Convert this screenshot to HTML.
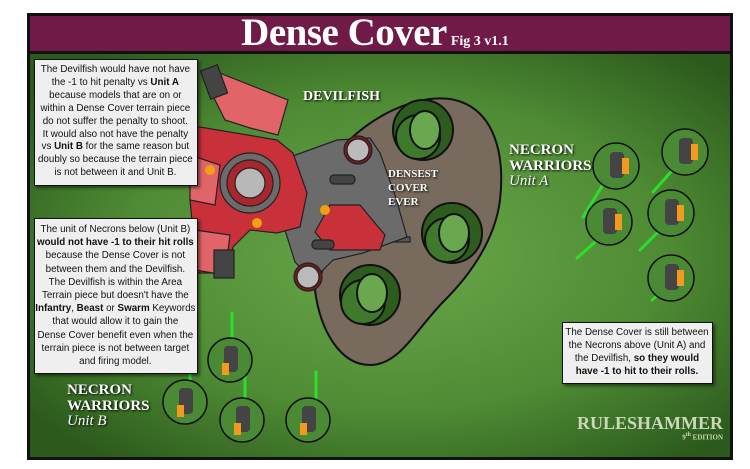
<!DOCTYPE html>
<html><head><meta charset="utf-8"><style>
body{margin:0;width:750px;height:469px;background:#fff;overflow:hidden;position:relative;font-family:"Liberation Sans",sans-serif}
.box{position:absolute;background:#efefef;border:1.5px solid #111;box-shadow:2px 2px 3px rgba(0,0,0,.5);box-sizing:border-box;overflow:hidden}
.in{position:absolute;left:0;top:4px;font-family:"Liberation Sans",sans-serif;font-size:10px;line-height:12.9px;text-align:center;color:#111;transform:scaleX(0.98);transform-origin:0 0;white-space:nowrap}
.lbl{position:absolute;font-family:"Liberation Serif",serif;color:#fff;font-weight:bold;text-shadow:1px 1px 2px #000}
</style></head><body>
<svg width="750" height="469" style="position:absolute;left:0;top:0">
<defs>
<radialGradient id="g" cx="52%" cy="50%" r="65%"><stop offset="0" stop-color="#6aa84a"/><stop offset="0.6" stop-color="#4e8b34"/><stop offset="1" stop-color="#2c5a1c"/></radialGradient>
</defs>
<rect x="27" y="13" width="706" height="447" fill="#111"/>
<rect x="30" y="16" width="700" height="35" fill="#701a47"/>
<rect x="30" y="54" width="700" height="403" fill="url(#g)"/>
<path d="M340,150 C370,115 420,92 455,100 C495,110 505,155 500,200 C495,240 470,275 445,300 C415,330 400,365 370,365 C340,365 320,330 315,290 L330,250 Z" fill="#786a5c" stroke="#111" stroke-width="2"/>
<g stroke="#111" stroke-width="2">
<circle cx="423" cy="130" r="30" fill="#2e5c1e"/><circle cx="418" cy="137" r="22" fill="#3f7a2c"/><ellipse cx="425" cy="130" rx="15" ry="19" fill="#6aa84f"/>
<circle cx="452" cy="233" r="30" fill="#2e5c1e"/><circle cx="447" cy="240" r="22" fill="#3f7a2c"/><ellipse cx="454" cy="233" rx="15" ry="19" fill="#6aa84f"/>
<circle cx="370" cy="295" r="30" fill="#2e5c1e"/><circle cx="363" cy="302" r="22" fill="#3f7a2c"/><ellipse cx="372" cy="293" rx="15" ry="19" fill="#6aa84f"/>
</g>
<g stroke="#222" stroke-width="1.2">
<rect x="386" y="237" width="24" height="5" fill="#555"/>
<polygon points="290,157 337,140 370,138 380,153 395,195 407,237 363,253 333,260 313,280 295,262 285,230" fill="#6b6b6b"/>
<polygon points="330,205 360,205 385,235 380,250 330,250 315,232" fill="#c8303a"/>
<polygon points="193,127 200,127 277,140 293,153 307,193 300,227 277,233 250,230 233,247 227,273 197,273 190,200" fill="#c8303a"/>
<polygon points="205,80 217,72 288,100 278,135 250,128 225,120" fill="#e06468"/>
<rect x="205" y="67" width="18" height="30" fill="#444" transform="rotate(-20 214 82)"/>
<polygon points="190,155 220,165 215,205 190,200" fill="#e06468"/>
<polygon points="195,230 230,235 225,275 195,270" fill="#e06468"/>
<rect x="214" y="250" width="20" height="28" fill="#444"/>
<circle cx="250" cy="183" r="30" fill="#6b6b6b"/>
<circle cx="250" cy="183" r="23" fill="#a8262e"/>
<circle cx="250" cy="183" r="15" fill="#b8b8b8"/>
<circle cx="358" cy="150" r="14" fill="#7a1a1e"/><circle cx="358" cy="150" r="11" fill="#bbb"/>
<circle cx="308" cy="277" r="14" fill="#7a1a1e"/><circle cx="308" cy="277" r="11" fill="#bbb"/>
<rect x="330" y="175" width="25" height="9" rx="4" fill="#444"/>
<rect x="312" y="240" width="22" height="9" rx="4" fill="#444"/>
</g>
<g fill="#f0a010"><circle cx="210" cy="170" r="5"/><circle cx="257" cy="223" r="5"/><circle cx="325" cy="210" r="5"/></g>
<g stroke-linecap="round">
<g stroke="#2be02b" stroke-width="3">
<line x1="607" y1="178" x2="583" y2="217"/><line x1="677" y1="165" x2="653" y2="192"/>
<line x1="603" y1="235" x2="577" y2="258"/><line x1="664" y1="226" x2="640" y2="250"/><line x1="664" y1="290" x2="652" y2="300"/>
<line x1="232" y1="313" x2="232" y2="343"/><line x1="245" y1="373" x2="245" y2="400"/><line x1="316" y1="372" x2="316" y2="400"/><line x1="190" y1="375" x2="190" y2="390"/>
</g>
<g fill="#4a8a34" stroke="#111" stroke-width="1.5">
<circle cx="616" cy="166" r="23"/><circle cx="685" cy="152" r="23"/><circle cx="609" cy="222" r="23"/><circle cx="671" cy="213" r="23"/><circle cx="671" cy="278" r="23"/>
<circle cx="230" cy="360" r="22"/><circle cx="185" cy="402" r="22"/><circle cx="242" cy="420" r="22"/><circle cx="308" cy="420" r="22"/>
</g>
<g fill="#444">
<rect x="610" y="152" width="14" height="26" rx="4"/><rect x="679" y="138" width="14" height="26" rx="4"/><rect x="603" y="208" width="14" height="26" rx="4"/><rect x="665" y="199" width="14" height="26" rx="4"/><rect x="665" y="264" width="14" height="26" rx="4"/>
<rect x="224" y="346" width="14" height="26" rx="4"/><rect x="179" y="388" width="14" height="26" rx="4"/><rect x="236" y="406" width="14" height="26" rx="4"/><rect x="302" y="406" width="14" height="26" rx="4"/>
</g>
<g fill="#f39a1e">
<rect x="622" y="158" width="7" height="16"/><rect x="691" y="144" width="7" height="16"/><rect x="615" y="214" width="7" height="16"/><rect x="677" y="205" width="7" height="16"/><rect x="677" y="270" width="7" height="16"/>
<rect x="222" y="363" width="7" height="12"/><rect x="177" y="405" width="7" height="12"/><rect x="234" y="423" width="7" height="12"/><rect x="300" y="423" width="7" height="12"/>
</g>
</g>
</svg>
<div style="position:absolute;left:0;width:750px;top:10px;text-align:center;font-family:'Liberation Serif',serif;color:#fff;font-weight:bold;white-space:nowrap"><span style="font-size:39px;letter-spacing:-0.5px">Dense Cover</span> <span style="font-size:14px">Fig 3 v1.1</span></div>
<div class="box" style="left:34px;top:59px;width:164px;height:127px"><div class="in" style="width:164px">The Devilfish would have not have<br>the -1 to hit penalty vs <b>Unit A</b><br>because models that are on or<br>within a Dense Cover terrain piece<br>do not suffer the penalty to shoot.<br>It would also not have the penalty<br>vs <b>Unit B</b> for the same reason but<br>doubly so because the terrain piece<br>is not between it and Unit B.</div></div>
<div class="box" style="left:34px;top:218px;width:164px;height:156px"><div class="in" style="width:164px;line-height:13.2px">The unit of Necrons below (Unit B)<br><b>would not have -1 to their hit rolls</b><br>because the Dense Cover is not<br>between them and the Devilfish.<br>The Devilfish is within the Area<br>Terrain piece but doesn't have the<br><b>Infantry</b>, <b>Beast</b> or <b>Swarm</b> Keywords<br>that would allow it to gain the<br>Dense Cover benefit even when the<br>terrain piece is not between target<br>and firing model.</div></div>
<div class="box" style="left:562px;top:322px;width:151px;height:62px"><div class="in" style="width:151px">The Dense Cover is still between<br>the Necrons above (Unit A) and<br>the Devilfish, <b>so they would<br>have -1 to hit to their rolls.</b></div></div>
<div class="lbl" style="left:303px;top:89px;font-size:14px">DEVILFISH</div>
<div class="lbl" style="left:388px;top:167px;font-size:11px;line-height:14px">DENSEST<br>COVER<br>EVER</div>
<div class="lbl" style="left:509px;top:143px;font-size:15px;line-height:15.5px">NECRON<br>WARRIORS<br><i style="font-weight:normal">Unit A</i></div>
<div class="lbl" style="left:67px;top:383px;font-size:15px;line-height:15.5px">NECRON<br>WARRIORS<br><i style="font-weight:normal">Unit B</i></div>
<div style="position:absolute;left:560px;width:163px;top:412px;text-align:right;font-family:'Liberation Serif',serif;font-weight:bold;color:#c9d8b8;font-size:18px;line-height:22px">RULESHAMMER</div>
<div style="position:absolute;left:560px;width:163px;top:432px;text-align:right;font-family:'Liberation Serif',serif;font-weight:bold;color:#c9d8b8;font-size:7px">9<sup>th</sup> EDITION</div>
</body></html>
